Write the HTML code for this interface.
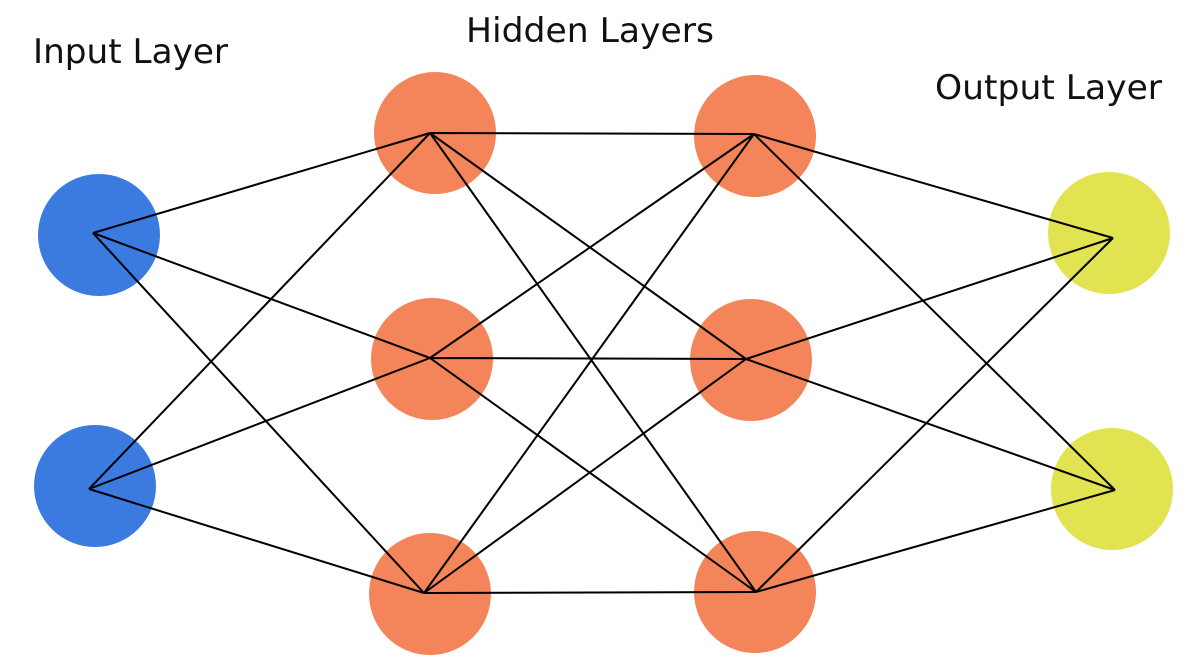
<!DOCTYPE html>
<html><head><meta charset="utf-8"><style>
html,body{margin:0;padding:0;background:#fff;}
svg{display:block;}
text{font-family:"DejaVu Sans","Liberation Sans",sans-serif;font-size:34px;fill:#111;}
</style></head><body>
<svg width="1194" height="670" viewBox="0 0 1194 670" xmlns="http://www.w3.org/2000/svg">
<rect width="1194" height="670" fill="#fff"/>
<g fill="#3b7be0">
<circle cx="99" cy="235" r="61"/><circle cx="95" cy="486" r="61"/>
</g>
<g fill="#f48459">
<circle cx="435" cy="133" r="61"/><circle cx="432" cy="359" r="61"/><circle cx="430" cy="594" r="61"/>
<circle cx="755" cy="136" r="61"/><circle cx="751" cy="360" r="61"/><circle cx="755" cy="592" r="61"/>
</g>
<g fill="#e1e351">
<circle cx="1109" cy="233" r="61"/><circle cx="1112" cy="489" r="61"/>
</g>
<g stroke="#000" stroke-width="2" fill="none">
<path d="M93 233L430 133M93 233L430 358M93 233L424 593"/>
<path d="M89 489L430 133M89 489L430 358M89 489L424 593"/>
<path d="M430 133L754 134M430 133L746 359M430 133L756 592"/>
<path d="M430 358L754 134M430 358L746 359M430 358L756 592"/>
<path d="M424 593L754 134M424 593L746 359M424 593L756 592"/>
<path d="M754 134L1113 238M754 134L1115 490"/>
<path d="M746 359L1113 238M746 359L1115 490"/>
<path d="M756 592L1113 238M756 592L1115 490"/>
</g>
<text x="33" y="63" textLength="195" lengthAdjust="spacingAndGlyphs">Input Layer</text>
<text x="466" y="42" textLength="248" lengthAdjust="spacingAndGlyphs">Hidden Layers</text>
<text x="935" y="99" textLength="227" lengthAdjust="spacingAndGlyphs">Output Layer</text>
</svg>
</body></html>
